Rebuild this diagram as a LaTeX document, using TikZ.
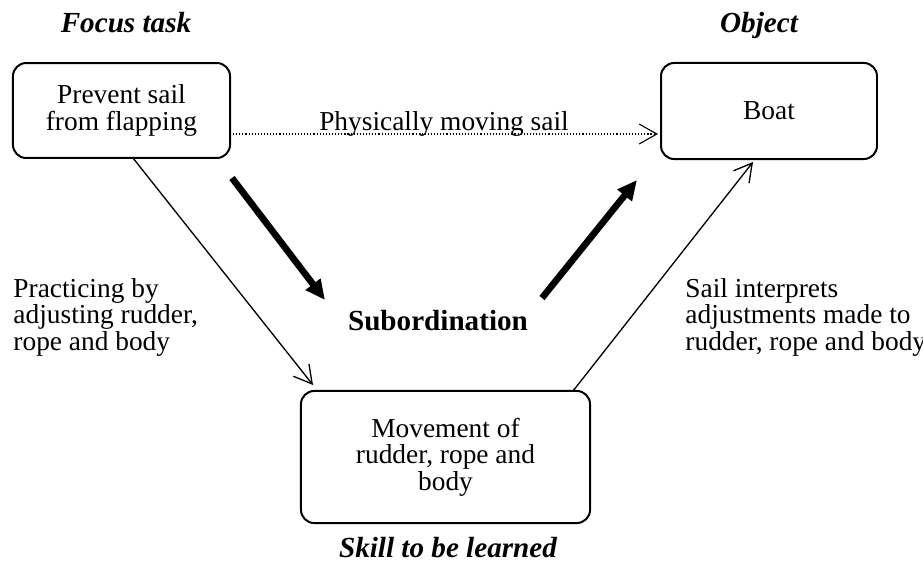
\documentclass[tikz,border=0pt]{standalone}
\usepackage{fontspec}
\setmainfont{Liberation Serif}
\usetikzlibrary{arrows.meta,positioning}

\begin{document}
\begin{tikzpicture}[
    x=0.4528pt, y=-0.4528pt,
    font=\fontsize{12.4}{12}\selectfont,
    box/.style={rectangle, draw, rounded corners=6pt, line width=0.9pt, align=center, inner sep=2pt},
    role/.style={font=\fontsize{13.2}{15}\selectfont\bfseries\itshape, inner sep=0pt, anchor=base},
    note/.style={align=left, inner sep=0pt, anchor=west},
    arrow/.style={-{Straight Barb[length=8pt,width=9pt]}, line width=0.6pt},
    bigarrow/.style={-{Triangle[length=9pt,width=8pt]}, line width=3pt},
    dotarrow/.style={arrow, line width=0.5pt, dash pattern=on 0.5pt off 0.9pt},
]
\useasboundingbox (0,0) rectangle (923,565);

% Boxes
\node[box, minimum width=98.3pt, minimum height=43pt] (task) at (121.5,110.5) {Prevent sail\\from flapping};
\node[box, minimum width=97.8pt, minimum height=43.5pt] (boat) at (769,111) {Boat};
\node[box, minimum width=130.9pt, minimum height=59.8pt] (skill) at (445.5,457) {Movement of\\rudder, rope and\\body};

% Roles
\node[role] (focus) at (126,32) {Focus task};
\node[role] (object) at (759,32) {Object};
\node[role] (learn) at (448,557) {Skill to be learned};
\node[font=\fontsize{13.2}{15}\selectfont\bfseries, inner sep=0pt, anchor=base] (sub) at (438,330) {Subordination};

% Notes
\node[note] (practice) at (13,317) {Practicing by\\adjusting rudder,\\rope and body};
\node[note] (interpret) at (685,317) {Sail interprets\\adjustments made to\\rudder, rope and body};
\node[anchor=base, inner sep=0pt] (move) at (444,130) {Physically moving sail};

% Arrow ends
\coordinate (d1) at (230,134);
\coordinate (d2) at (658,134);
\coordinate (p1) at (133,158);
\coordinate (p2) at (313,385);
\coordinate (q1) at (573,391);
\coordinate (q2) at (753,162);
\coordinate (s1) at (232,178);
\coordinate (s2) at (325,300);
\coordinate (s3) at (542,298);
\coordinate (s4) at (637,180);

% Arrows
\draw[dotarrow] (d1) -- (d2);
\draw[arrow] (p1) -- (p2);
\draw[arrow] (q1) -- (q2);
\draw[bigarrow] (s1) -- (s2);
\draw[bigarrow] (s3) -- (s4);

\end{tikzpicture}
\end{document}
